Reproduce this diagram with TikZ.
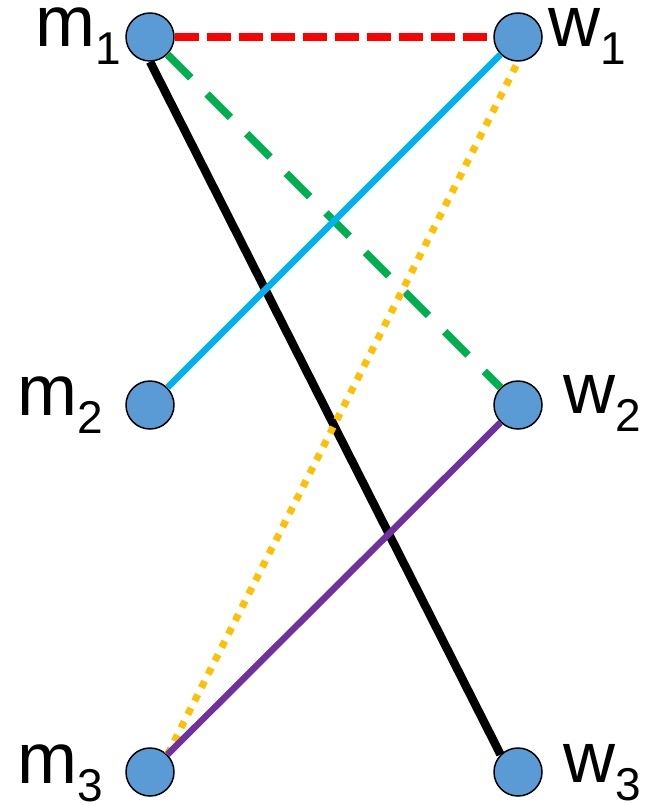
\documentclass[tikz,border=0pt]{standalone}
\usepackage{fontspec}
\setmainfont{Liberation Sans}
\usetikzlibrary{positioning}
\definecolor{nodeblue}{HTML}{5B9BD5}
\definecolor{pgreen}{HTML}{00B050}
\definecolor{pblue}{HTML}{00B0F0}
\definecolor{pgold}{HTML}{FFC000}
\definecolor{ppurple}{HTML}{7030A0}
\newcommand{\who}[2]{#1\raisebox{-18pt}{\fontsize{46}{46}\selectfont #2}}
\tikzset{
  agent/.style={circle,draw,fill=nodeblue,line width=1.5pt,minimum size=48pt,inner sep=0pt},
  tag/.style={inner sep=0pt,anchor=base west,text height=38pt,text depth=0pt,
              font=\fontsize{72}{72}\selectfont},
  every picture/.style={line join=round}}

\begin{document}
\begin{tikzpicture}[x=1pt,y=-1pt]
  \useasboundingbox (0,0) rectangle (654,805);
  \node[agent] (m1) at (150,37) {}; \node[agent] (w1) at (518,37) {};
  \node[agent] (m2) at (150,405) {}; \node[agent] (w2) at (518,405) {};
  \node[agent] (m3) at (150,772) {}; \node[agent] (w3) at (518,772) {};
  \node[tag] (lm1) at (35,47) {\who{m}{1}}; \node[tag] (lw1) at (548,47) {\who{w}{1}};
  \node[tag] (lm2) at (17,415) {\who{m}{2}}; \node[tag] (lw2) at (563,413) {\who{w}{2}};
  \node[tag] (lm3) at (17,783) {\who{m}{3}}; \node[tag] (lw3) at (563,782) {\who{w}{3}};
  \draw[red,line width=7.5pt,dash pattern=on 24pt off 8pt] (m1.east)--(w1.west);
  \draw[pgreen,line width=7.5pt,dash pattern=on 33pt off 23pt] (m1.south east)--(w2.north west);
  \draw[black,line width=8.5pt] (m1.south)--(w3.north west);
  \draw[pblue,line width=6.5pt] (m2.north east)--(w1.south west);
  \draw[pgold,line width=7pt,dash pattern=on 7pt off 8pt] (m3.north east)--(w1.south);
  \draw[ppurple,line width=6.5pt] (m3.north east)--(w2.south west);
\end{tikzpicture}
\end{document}
